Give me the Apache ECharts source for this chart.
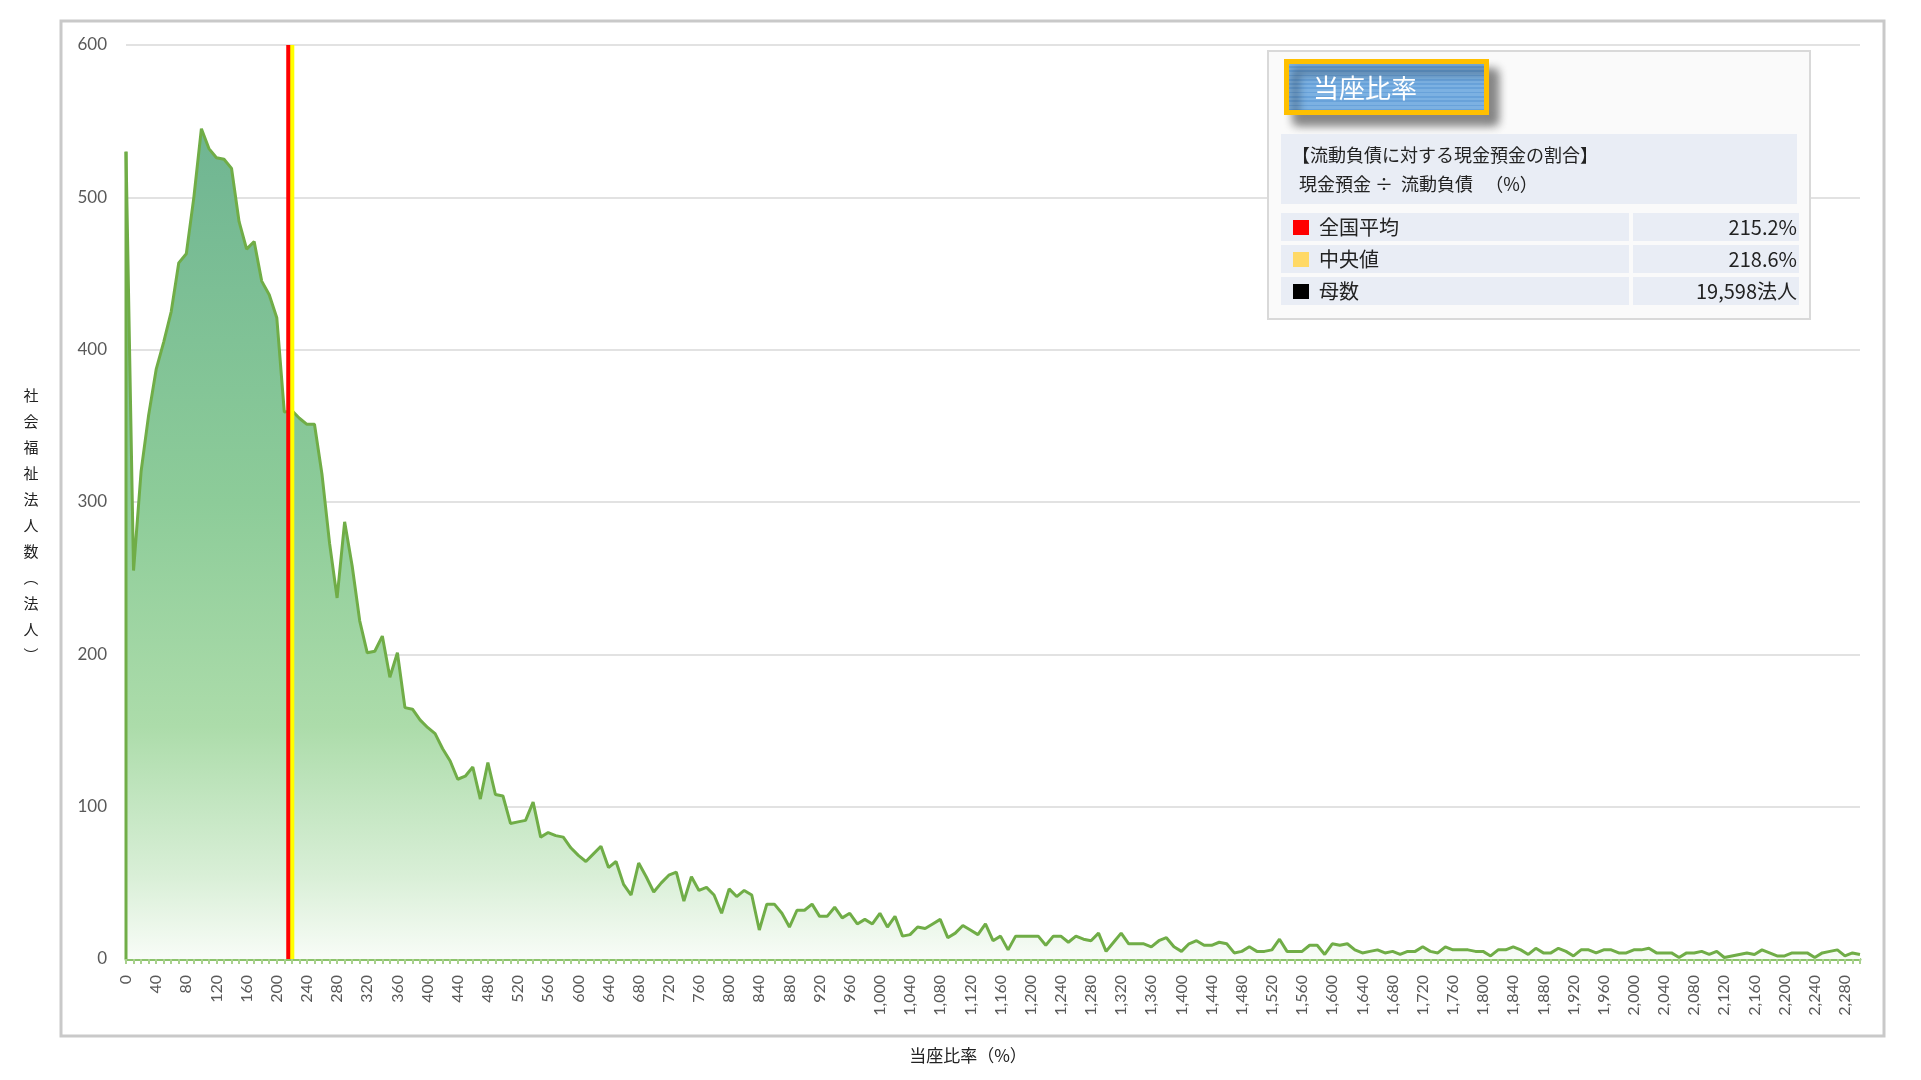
<!DOCTYPE html>
<html><head><meta charset="utf-8">
<script src="https://cdn.jsdelivr.net/npm/echarts@6/dist/echarts.min.js"></script>
<style>html,body{margin:0;padding:0;background:#fff;}#c{width:1921px;height:1080px;}</style>
</head><body><div id="c"></div>
<script>
// ---- data ----
const xStart = 0, xStep = 10, xCount = 231;           // 当座比率 (%) classes 0..2300
const categories = Array.from({length: xCount}, (_, i) => String(xStart + i * xStep));
const counts = [
530,255,320,357,387,405,425,457,463,500,
545,532,526,525,519,484,466,471,445,436,
421,359,360,355,351,351,318,273,237,287,
258,222,201,202,212,185,201,165,164,157,
152,148,138,130,118,120,126,105,129,108,
107,89,90,91,103,80,83,81,80,73,
68,64,69,74,60,64,49,42,63,54,
44,50,55,57,38,54,45,47,42,30,
46,41,45,42,19,36,36,30,21,32,
32,36,28,28,34,27,30,23,26,23,
30,21,28,15,16,21,20,23,26,14,
17,22,19,16,23,12,15,6,15,15,
15,15,9,15,15,11,15,13,12,17,
5,11,17,10,10,10,8,12,14,8,
5,10,12,9,9,11,10,4,5,8,
5,5,6,13,5,5,5,9,9,3,
10,9,10,6,4,5,6,4,5,3,
5,5,8,5,4,8,6,6,6,5,
5,2,6,6,8,6,3,7,4,4,
7,5,2,6,6,4,6,6,4,4,
6,6,7,4,4,4,1,4,4,5,
3,5,1,2,3,4,3,6,4,2,
2,4,4,4,1,4,5,6,2,4,
3
];
const yMin = 0, yMax = 600, yInterval = 100;
const meanValue = 215.2;     // 全国平均
const medianValue = 218.6;   // 中央値
const chartTitle = '当座比率';
const descLines = ['【流動負債に対する現金預金の割合】', '現金預金 ÷  流動負債   （%）'];
const statLabels = ['全国平均', '中央値', '母数'];
const statValues = ['215.2%', '218.6%', '19,598法人'];
const statColors = ['#ff0000', '#ffd966', '#000000'];
const yAxisName = '社会福祉法人数︵法人︶';
const xAxisName = '当座比率（%）';

// ---- chart ----
const FONT = "'Noto Sans CJK JP', sans-serif";
const NUMFONT = "Lato, 'Noto Sans CJK JP', sans-serif";
const chart = echarts.init(document.getElementById('c'));

// striped blue fill for title box
const stripeStops = [];
const nStripe = 13;
for (let k = 0; k < nStripe; k++) {
  const a = k / nStripe, b = (k + 0.6) / nStripe, c = (k + 1) / nStripe;
  stripeStops.push({offset: a, color: '#7cb1e2'}, {offset: b, color: '#7cb1e2'},
                   {offset: b, color: '#68a2da'}, {offset: c, color: '#68a2da'});
}

const graphic = [
  {type: 'rect', z: 1, shape: {x: 61, y: 21, width: 1823, height: 1015},
   style: {fill: 'none', stroke: '#c9c9c9', lineWidth: 3}},
  {type: 'rect', z: 100, shape: {x: 1268, y: 51, width: 542, height: 268},
   style: {fill: '#fafafa', stroke: '#d9d9d9', lineWidth: 2}},
  {type: 'rect', z: 101, shape: {x: 1286.5, y: 61.5, width: 200, height: 51},
   style: {fill: new echarts.graphic.LinearGradient(0, 0, 0, 1, stripeStops),
           stroke: '#ffc000', lineWidth: 5,
           shadowBlur: 10, shadowOffsetX: 9, shadowOffsetY: 10, shadowColor: 'rgba(0,0,0,0.45)'}},
  {type: 'text', z: 102, x: 1313, y: 88,
   style: {text: chartTitle, fill: '#ffffff', font: '26px ' + FONT, textVerticalAlign: 'middle'}},
  {type: 'rect', z: 101, shape: {x: 1281, y: 134, width: 516, height: 70}, style: {fill: '#e9edf5'}},
  {type: 'text', z: 102, x: 1292, y: 155,
   style: {text: descLines[0], fill: '#222', font: '18px ' + FONT, textVerticalAlign: 'middle'}},
  {type: 'text', z: 102, x: 1299, y: 184,
   style: {text: descLines[1], fill: '#222', font: '18px ' + FONT, textVerticalAlign: 'middle'}},
  {type: 'text', z: 10, x: 31, y: 525,
   style: {text: yAxisName.split('').join('\n'), fill: '#222', font: '15px ' + FONT,
           lineHeight: 26, textAlign: 'center', textVerticalAlign: 'middle'}},
  {type: 'text', z: 10, x: 968, y: 1056,
   style: {text: xAxisName, fill: '#222', font: '17px ' + FONT,
           textAlign: 'center', textVerticalAlign: 'middle'}}
];
statLabels.forEach((lab, i) => {
  const y0 = 213 + 32 * i;
  graphic.push(
    {type: 'rect', z: 101, shape: {x: 1281, y: y0, width: 348, height: 28}, style: {fill: '#e9edf5'}},
    {type: 'rect', z: 101, shape: {x: 1633, y: y0, width: 166, height: 28}, style: {fill: '#e9edf5'}},
    {type: 'rect', z: 102, shape: {x: 1293, y: y0 + 7, width: 16, height: 15}, style: {fill: statColors[i]}},
    {type: 'text', z: 102, x: 1319, y: y0 + 14,
     style: {text: lab, fill: '#222', font: '20px ' + FONT, textVerticalAlign: 'middle'}},
    {type: 'text', z: 102, x: 1797, y: y0 + 14,
     style: {text: statValues[i], fill: '#222', font: '20px ' + FONT, textAlign: 'right', textVerticalAlign: 'middle'}}
  );
});

const option = {
  animation: false,
  backgroundColor: '#ffffff',
  grid: {left: 126, right: 61, top: 45, bottom: 121, containLabel: false},
  xAxis: [{
    type: 'category', data: categories, boundaryGap: false,
    axisLine: {lineStyle: {color: '#8cc36c', width: 3}},
    axisTick: {show: true, interval: 0, length: 5, lineStyle: {color: '#a9d18e', width: 2}},
    axisLabel: {interval: 3, rotate: 90, fontSize: 16, color: '#595959', margin: 16, fontFamily: NUMFONT,
                formatter: v => Number(v).toLocaleString('en-US')},
    splitLine: {show: false}
  }, {
    type: 'value', min: xStart, max: xStart + (xCount - 1) * xStep, show: false
  }],
  yAxis: {
    type: 'value', min: yMin, max: yMax, interval: yInterval,
    axisLine: {show: false}, axisTick: {show: false},
    axisLabel: {fontSize: 17, color: '#595959', margin: 19, fontFamily: NUMFONT},
    splitLine: {lineStyle: {color: '#d9d9d9', width: 1.5}}
  },
  series: [
    {
      type: 'line', data: counts, symbol: 'none', z: 3,
      lineStyle: {color: '#70ad47', width: 3},
      areaStyle: {opacity: 1, color: new echarts.graphic.LinearGradient(0, 0, 0, 1, [
        {offset: 0, color: '#6fb592'},
        {offset: 0.45, color: '#8dcc99'},
        {offset: 0.72, color: '#acdcaa'},
        {offset: 0.9, color: '#d9efd7'},
        {offset: 1, color: '#f8fcf7'}
      ])}
    },
    {
      type: 'line', xAxisIndex: 1, symbol: 'none', z: 4,
      data: [[xStart, 0], [xStart, counts[0]]],
      lineStyle: {color: '#70ad47', width: 3}
    },
    {
      type: 'line', xAxisIndex: 1, symbol: 'none', z: 5,
      data: [[medianValue, yMin], [medianValue, yMax]],
      lineStyle: {color: '#ffff00', width: 7}
    },
    {
      type: 'line', xAxisIndex: 1, symbol: 'none', z: 6,
      data: [[meanValue, yMin], [meanValue, yMax]],
      lineStyle: {color: '#ff0000', width: 4}
    }
  ],
  graphic: graphic
};
chart.setOption(option);
</script>
</body></html>
